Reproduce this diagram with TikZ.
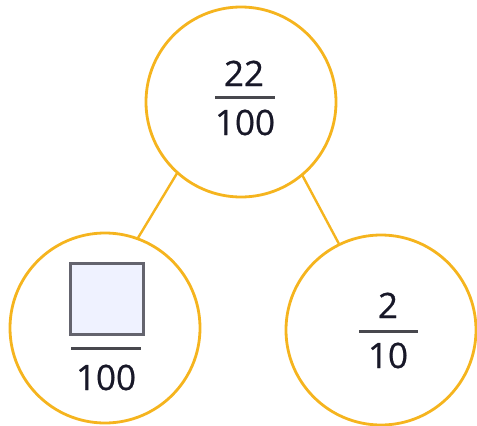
\documentclass[tikz,border=0pt]{standalone}
\usepackage{fontspec}
\setmainfont{Open Sans}
\newfontfamily\numfont[FakeBold=0.6]{Open Sans}
\definecolor{ring}{RGB}{245,180,30}
\definecolor{ink}{RGB}{24,24,40}
\definecolor{barc}{RGB}{72,72,78}
\definecolor{boxfill}{RGB}{239,242,255}
\definecolor{boxline}{RGB}{100,100,110}
\begin{document}
\begin{tikzpicture}[x=1pt,y=-1pt,
  bubble/.style={circle,draw=ring,line width=2.8pt,minimum size=190pt,inner sep=0pt,outer sep=0pt},
  num/.style={anchor=base,text=ink,inner sep=0pt,font=\numfont\fontsize{35}{42}\selectfont},
  fbar/.style={draw=barc,line width=3pt},
  link/.style={draw=ring,line width=2.4pt}]
\useasboundingbox (0,0) rectangle (477,426);
\node[bubble] (top) at (241,102) {};
\node[bubble] (bl) at (105,328) {};
\node[bubble] (br) at (381,330) {};
\draw[link] (top.228) -- (bl.70);
\draw[link] (top.310) -- (br.116);
% top fraction
\node[num] (tn) at (244,86) {22};
\coordinate (tb1) at (215,97); \coordinate (tb2) at (275,97);
\draw[fbar] (tb1) -- (tb2);
\node[num] (td) at (245,135) {100};
% left fraction
\node[draw=boxline,fill=boxfill,line width=3pt,minimum width=73pt,minimum height=71pt,inner sep=0pt] (sq) at (106.5,298.5) {};
\coordinate (lb1) at (71,348); \coordinate (lb2) at (141,348);
\draw[fbar] (lb1) -- (lb2);
\node[num] (ld) at (106,390) {100};
% right fraction
\node[num] (rn) at (388,318) {2};
\coordinate (rb1) at (359,331); \coordinate (rb2) at (418,331);
\draw[fbar] (rb1) -- (rb2);
\node[num] (rd) at (388,368) {10};
\end{tikzpicture}
\end{document}
